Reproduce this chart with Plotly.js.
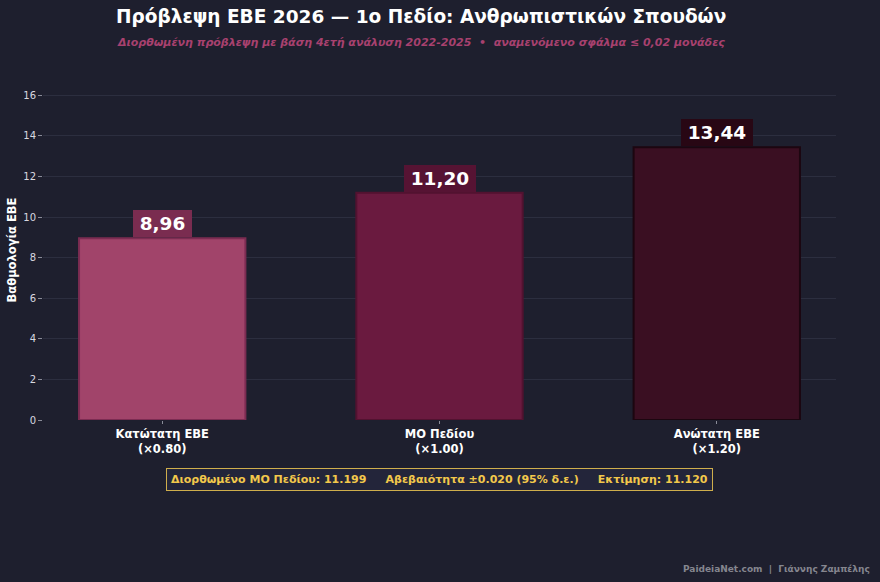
<!DOCTYPE html>
<html>
<head>
<meta charset="utf-8">
<script src="https://cdn.plot.ly/plotly-3.0.1.min.js"></script>
<style>
  html, body { margin: 0; padding: 0; background: #1e1f2e; }
  #chart { width: 880px; height: 582px; }
</style>
</head>
<body>
<div id="chart"></div>
<script>
// Data
const categories = ["Κατώτατη ΕΒΕ<br>(×0.80)", "ΜΟ Πεδίου<br>(×1.00)", "Ανώτατη ΕΒΕ<br>(×1.20)"];
const values = [8.96, 11.20, 13.44];
const valueLabels = ["8,96", "11,20", "13,44"];
const yTicks = [0, 2, 4, 6, 8, 10, 12, 14, 16];

// Styles
const barColors = ["#a1446a", "#6a1a3f", "#3a0f22"];
const barEdges = ["#7c2c52", "#521230", "#1c0610"];
const boxColors = ["#7a2c50", "#561333", "#280714"];
const font = "DejaVu Sans, Verdana, sans-serif";
const L = 42.7, R = 836, T = 78.8, B = 420;
const px = x => (x - L) / (R - L);
const py = y => (B - y) / (B - T);

const trace = {
  type: "bar",
  x: [0, 1, 2],
  y: values,
  width: 0.6,
  marker: { color: barColors, line: { color: barEdges, width: 2 } },
  hoverinfo: "skip"
};

const annotations = values.map((v, i) => ({
  x: i, y: v, xref: "x", yref: "y",
  text: "<b>\u2009" + valueLabels[i] + "\u2009</b>",
  showarrow: false,
  yanchor: "bottom",
  yshift: 1,
  font: { family: font, size: 18.5, color: "#ffffff" },
  bgcolor: boxColors[i],
  borderpad: 3,
  borderwidth: 0
}));

annotations.push({
  xref: "paper", yref: "paper", x: px(439), y: py(480),
  xanchor: "center", yanchor: "middle",
  text: "<b>Διορθωμένο ΜΟ Πεδίου: 11.199     Αβεβαιότητα ±0.020 (95% δ.ε.)     Εκτίμηση: 11.120</b>",
  showarrow: false,
  font: { family: font, size: 11, color: "#f2c84b" },
  bgcolor: "#23253a",
  bordercolor: "#cfae4c",
  borderwidth: 1,
  borderpad: 4
});

annotations.push({
  xref: "paper", yref: "paper", x: px(872), y: py(569),
  xanchor: "right", yanchor: "middle",
  text: "<b>PaideiaNet.com  |  Γιάννης Ζαμπέλης</b>",
  showarrow: false,
  font: { family: font, size: 9, color: "#85868f" }
});

annotations.push({
  xref: "paper", yref: "paper", x: px(421), y: py(42),
  xanchor: "center", yanchor: "middle",
  text: "<b><i>Διορθωμένη πρόβλεψη με βάση 4ετή ανάλυση 2022-2025  •  αναμενόμενο σφάλμα ≤ 0,02 μονάδες</i></b>",
  showarrow: false,
  font: { family: font, size: 11, color: "#a8416f" }
});

annotations.push({
  xref: "paper", yref: "paper", x: px(421), y: py(16),
  xanchor: "center", yanchor: "middle",
  text: "<b>Πρόβλεψη ΕΒΕ 2026 — 1ο Πεδίο: Ανθρωπιστικών Σπουδών</b>",
  showarrow: false,
  font: { family: font, size: 18.5, color: "#ffffff" }
});

annotations.push({
  xref: "paper", yref: "paper", x: px(12), y: py(250),
  xanchor: "center", yanchor: "middle", textangle: -90,
  text: "<b>Βαθμολογία ΕΒΕ</b>",
  showarrow: false,
  font: { family: font, size: 11.5, color: "#ffffff" }
});

const layout = {
  width: 880, height: 582,
  paper_bgcolor: "#1e1f2e",
  plot_bgcolor: "#1e1f2e",
  margin: { l: L, r: 880 - R, t: T, b: 582 - B },
  showlegend: false,
  xaxis: {
    range: [-0.43, 2.43],
    tickmode: "array",
    tickvals: [0, 1, 2],
    ticktext: categories.map(c => "<b>" + c + "</b>"),
    tickfont: { family: font, size: 11.5, color: "#ffffff" },
    ticks: "outside", ticklen: 3, tickcolor: "#8a8c99",
    showgrid: false, zeroline: false, showline: false,
    fixedrange: true
  },
  yaxis: {
    range: [0, 16.8],
    tickmode: "array",
    tickvals: yTicks,
    tickfont: { family: font, size: 10, color: "#d8d8e0" },
    ticks: "outside", ticklen: 4, tickcolor: "#8a8c99",
    showgrid: true, gridcolor: "#2c2e3f", gridwidth: 1,
    zeroline: false, showline: false,
    fixedrange: true
  },
  annotations: annotations
};

Plotly.newPlot("chart", [trace], layout, { displayModeBar: false, staticPlot: true });
</script>
</body>
</html>
